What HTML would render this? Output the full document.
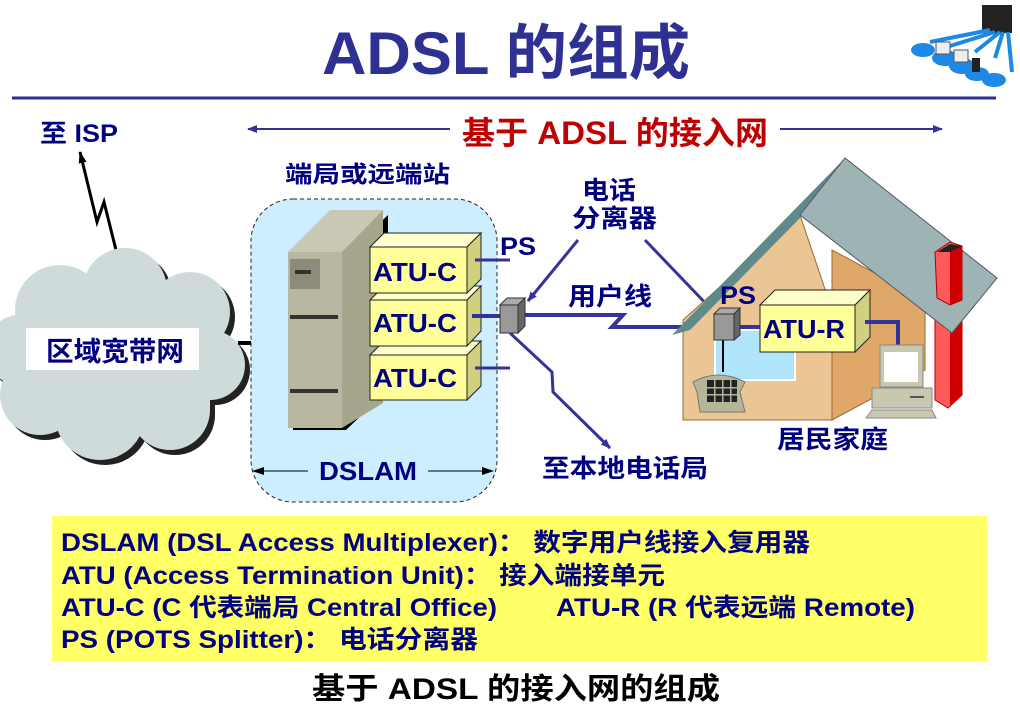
<!DOCTYPE html>
<html><head><meta charset="utf-8"><style>
body{margin:0;background:#fff;}
svg{display:block;}
text{font-family:"Liberation Sans","Noto Sans CJK SC",sans-serif;font-weight:bold;}
</style></head><body>
<svg width="1020" height="723" viewBox="0 0 1020 723" xmlns="http://www.w3.org/2000/svg">
<defs>
<marker id="ab" markerWidth="10" markerHeight="8" refX="9" refY="4" orient="auto" markerUnits="userSpaceOnUse"><path d="M0,0 L10,4 L0,8 z" fill="#333399"/></marker>
<marker id="ak" markerWidth="12" markerHeight="8" refX="11" refY="4" orient="auto" markerUnits="userSpaceOnUse"><path d="M0,0 L12,4 L0,8 z" fill="#000"/></marker>
</defs>
<text x="322" y="74" font-size="60" fill="#2E3192" textLength="368" lengthAdjust="spacingAndGlyphs">ADSL 的组成</text>
<line x1="12" y1="98" x2="996" y2="98" stroke="#2E3192" stroke-width="3"/>
<g>
<rect x="982" y="5" width="30" height="28" fill="#222"/>
<path d="M990 30 L930 42 M995 32 L950 46 M1000 32 L975 52 M1003 32 L995 58 M1008 32 L1012 72" stroke="#1E88E5" stroke-width="4" fill="none"/>
<ellipse cx="923" cy="50" rx="12" ry="7" fill="#1E88E5"/>
<ellipse cx="945" cy="58" rx="13" ry="8" fill="#1E88E5"/>
<ellipse cx="962" cy="66" rx="13" ry="8" fill="#1E88E5"/>
<ellipse cx="977" cy="74" rx="12" ry="7" fill="#1E88E5"/>
<ellipse cx="994" cy="80" rx="12" ry="7" fill="#1E88E5"/>
<rect x="936" y="42" width="14" height="12" fill="#eee" stroke="#555"/>
<rect x="954" y="50" width="14" height="12" fill="#eee" stroke="#555"/>
<rect x="972" y="58" width="8" height="14" fill="#222"/>
</g>
<text x="40" y="142" font-size="25" fill="#000080" textLength="78" lengthAdjust="spacingAndGlyphs">至 ISP</text>
<line x1="450" y1="129" x2="248" y2="129" stroke="#333399" stroke-width="2" marker-end="url(#ab)"/>
<line x1="780" y1="129" x2="942" y2="129" stroke="#333399" stroke-width="2" marker-end="url(#ab)"/>
<text x="462" y="144" font-size="32" fill="#C00000" textLength="306" lengthAdjust="spacingAndGlyphs">基于 ADSL 的接入网</text>
<polyline points="116,250 104,202 97,222 80,152" fill="none" stroke="#000" stroke-width="3" marker-end="url(#ak)"/>
<g fill="#222" transform="translate(5,5)">
<circle cx="60" cy="310" r="45"/><circle cx="125" cy="290" r="42"/><circle cx="190" cy="312" r="40"/><circle cx="210" cy="365" r="35"/><circle cx="170" cy="410" r="40"/><circle cx="100" cy="415" r="45"/><circle cx="40" cy="395" r="40"/><circle cx="20" cy="350" r="35"/><rect x="30" y="300" width="180" height="110"/>
</g>
<g fill="#CFDADB">
<circle cx="60" cy="310" r="45"/><circle cx="125" cy="290" r="42"/><circle cx="190" cy="312" r="40"/><circle cx="210" cy="365" r="35"/><circle cx="170" cy="410" r="40"/><circle cx="100" cy="415" r="45"/><circle cx="40" cy="395" r="40"/><circle cx="20" cy="350" r="35"/><rect x="30" y="300" width="180" height="110"/>
</g>
<rect x="26" y="328" width="173" height="42" fill="#fff"/>
<text x="46" y="361" font-size="27" fill="#000080" textLength="138" lengthAdjust="spacingAndGlyphs">区域宽带网</text>
<line x1="238" y1="343" x2="290" y2="343" stroke="#000" stroke-width="4"/>
<text x="285" y="182" font-size="23" fill="#000080" textLength="165" lengthAdjust="spacingAndGlyphs">端局或远端站</text>
<rect x="251" y="199" width="246" height="303" rx="42" fill="#CCEEFF" stroke="#222" stroke-width="1" stroke-dasharray="4,3"/>
<polygon points="293,430 346,430 388,390 388,215 346,256 293,256" fill="#000"/>
<polygon points="288,252 330,210 383,210 342,252" fill="#C8C8B4"/>
<polygon points="342,252 383,210 383,403 342,428" fill="#A6A68C"/>
<rect x="288" y="252" width="54" height="176" fill="#B8B8A2"/>
<rect x="290" y="259" width="30" height="30" fill="#8C8C78"/>
<rect x="295" y="270" width="16" height="4" fill="#333"/>
<rect x="290" y="315" width="48" height="4" fill="#333"/>
<rect x="290" y="389" width="48" height="4" fill="#333"/>
<g stroke="#222" stroke-width="1">
<polygon points="370,355 384,341 481,341 467,355" fill="#FFFFCC"/><polygon points="467,355 481,341 481,386 467,400" fill="#D0D080"/><rect x="370" y="355" width="97" height="45" fill="#FFFF99"/>
<polygon points="370,300 384,286 481,286 467,300" fill="#FFFFCC"/><polygon points="467,300 481,286 481,331 467,346" fill="#D0D080"/><rect x="370" y="300" width="97" height="46" fill="#FFFF99"/>
<polygon points="370,247 384,233 481,233 467,247" fill="#FFFFCC"/><polygon points="467,247 481,233 481,279 467,293" fill="#D0D080"/><rect x="370" y="247" width="97" height="46" fill="#FFFF99"/>
</g>
<text x="373" y="281" font-size="26" fill="#000080" textLength="84" lengthAdjust="spacingAndGlyphs">ATU-C</text>
<text x="373" y="332" font-size="26" fill="#000080" textLength="84" lengthAdjust="spacingAndGlyphs">ATU-C</text>
<text x="373" y="387" font-size="26" fill="#000080" textLength="84" lengthAdjust="spacingAndGlyphs">ATU-C</text>
<line x1="475" y1="260" x2="510" y2="260" stroke="#333399" stroke-width="3"/>
<line x1="472" y1="316" x2="502" y2="316" stroke="#333399" stroke-width="4"/>
<line x1="475" y1="368" x2="510" y2="368" stroke="#333399" stroke-width="3"/>
<text x="500" y="255" font-size="25" fill="#000080" textLength="36" lengthAdjust="spacingAndGlyphs">PS</text>
<text x="319" y="480" font-size="26" fill="#000080" textLength="98" lengthAdjust="spacingAndGlyphs">DSLAM</text>
<line x1="308" y1="471" x2="253" y2="471" stroke="#000" stroke-width="1" marker-end="url(#ak)"/>
<line x1="428" y1="471" x2="493" y2="471" stroke="#000" stroke-width="1" marker-end="url(#ak)"/>
<polyline points="525,315 623,315 612,327 714,327" fill="none" stroke="#333399" stroke-width="4"/>
<polyline points="510,333 552,372 553,392 610,448" fill="none" stroke="#333399" stroke-width="3" marker-end="url(#ab)"/>
<line x1="578" y1="240" x2="528" y2="301" stroke="#333399" stroke-width="3" marker-end="url(#ab)"/>
<line x1="645" y1="240" x2="712" y2="310" stroke="#333399" stroke-width="3" marker-end="url(#ab)"/>
<text x="582" y="199" font-size="25" fill="#000080" textLength="54" lengthAdjust="spacingAndGlyphs">电话</text>
<text x="572" y="227" font-size="25" fill="#000080" textLength="85" lengthAdjust="spacingAndGlyphs">分离器</text>
<text x="568" y="305" font-size="25" fill="#000080" textLength="84" lengthAdjust="spacingAndGlyphs">用户线</text>
<text x="542" y="477" font-size="25" fill="#000080" textLength="166" lengthAdjust="spacingAndGlyphs">至本地电话局</text>
<polygon points="500,305 507,298 525,298 518,305" fill="#aaa" stroke="#333"/>
<polygon points="518,305 525,298 525,326 518,333" fill="#666" stroke="#333"/>
<rect x="500" y="305" width="18" height="28" fill="#999" stroke="#333"/>
<polygon points="832,420 925,370 925,300 832,250" fill="#E0A868" stroke="#9A6A30"/>
<polygon points="683,420 832,420 832,310 800,215 683,320" fill="#EBC594" stroke="#9A6A30"/>
<line x1="832" y1="330" x2="832" y2="420" stroke="#9A6A30"/>
<rect x="715" y="330" width="80" height="50" fill="#B0E4FA" stroke="#fff" stroke-width="2"/>
<polygon points="935,320 962,320 962,395 948,408 935,400" fill="#FF5A5A" stroke="#A00"/>
<polygon points="950,320 962,320 962,395 950,405" fill="#D00000"/>
<polygon points="672,335 845,158 852,165 690,330" fill="#5E8A8A"/>
<polygon points="800,215 845,158 997,278 952,333" fill="#9DB3B4" stroke="#556" stroke-width="1"/>
<polygon points="935,252 950,242 962,246 962,300 950,305 937,298" fill="#FF5A5A" stroke="#A00"/>
<polygon points="950,250 962,246 962,300 950,305" fill="#D00000"/>
<polygon points="937,252 950,244 962,246 950,252" fill="#222"/>
<g stroke="#222">
<polygon points="760,305 775,290 870,290 855,305" fill="#FFFFCC"/>
<polygon points="855,305 870,290 870,337 855,352" fill="#D0D080"/>
<rect x="760" y="305" width="95" height="47" fill="#FFFF99"/>
</g>
<text x="763" y="338" font-size="26" fill="#000080" textLength="82" lengthAdjust="spacingAndGlyphs">ATU-R</text>
<polyline points="865,322 898,322 898,345" fill="none" stroke="#333399" stroke-width="4"/>
<line x1="740" y1="327" x2="760" y2="327" stroke="#333399" stroke-width="4"/>
<line x1="723" y1="340" x2="723" y2="372" stroke="#000" stroke-width="2"/>
<text x="720" y="304" font-size="25" fill="#000080" textLength="36" lengthAdjust="spacingAndGlyphs">PS</text>
<polygon points="714,314 720,308 740,308 734,314" fill="#aaa" stroke="#333"/>
<polygon points="734,314 740,308 740,335 734,340" fill="#666" stroke="#333"/>
<rect x="714" y="314" width="20" height="26" fill="#999" stroke="#333"/>
<path d="M693,382 Q718,368 745,382 L740,392 L745,412 L700,412 L697,392 Z" fill="#B5B59A" stroke="#777"/>
<g fill="#222"><rect x="707" y="380" width="30" height="22"/></g>
<g fill="#B5B59A"><rect x="714" y="380" width="1.5" height="22"/><rect x="722" y="380" width="1.5" height="22"/><rect x="730" y="380" width="1.5" height="22"/><rect x="707" y="387" width="30" height="1.5"/><rect x="707" y="394" width="30" height="1.5"/></g>
<rect x="880" y="345" width="43" height="42" fill="#C8C8B0" stroke="#888"/>
<rect x="884" y="352" width="34" height="30" fill="#fff"/>
<rect x="872" y="388" width="60" height="20" fill="#C8C8B0" stroke="#888"/>
<rect x="910" y="396" width="14" height="2" fill="#555"/>
<polygon points="866,418 872,410 932,410 936,418" fill="#C8C8B0" stroke="#888"/>
<text x="777" y="448" font-size="25" fill="#000080" textLength="111" lengthAdjust="spacingAndGlyphs">居民家庭</text>
<rect x="52" y="516" width="935" height="145" fill="#FFFF66"/>
<g font-size="25" fill="#000080">
<text x="61" y="551" textLength="749" lengthAdjust="spacingAndGlyphs">DSLAM (DSL Access Multiplexer)： 数字用户线接入复用器</text>
<text x="61" y="584" textLength="604" lengthAdjust="spacingAndGlyphs">ATU (Access Termination Unit)： 接入端接单元</text>
<text x="61" y="616" textLength="436" lengthAdjust="spacingAndGlyphs">ATU-C (C 代表端局 Central Office)</text>
<text x="556" y="616" textLength="359" lengthAdjust="spacingAndGlyphs">ATU-R (R 代表远端 Remote)</text>
<text x="61" y="648" textLength="417" lengthAdjust="spacingAndGlyphs">PS (POTS Splitter)： 电话分离器</text>
</g>
<text x="312" y="699" font-size="30" fill="#000" textLength="408" lengthAdjust="spacingAndGlyphs">基于 ADSL 的接入网的组成</text>
</svg>
</body></html>
